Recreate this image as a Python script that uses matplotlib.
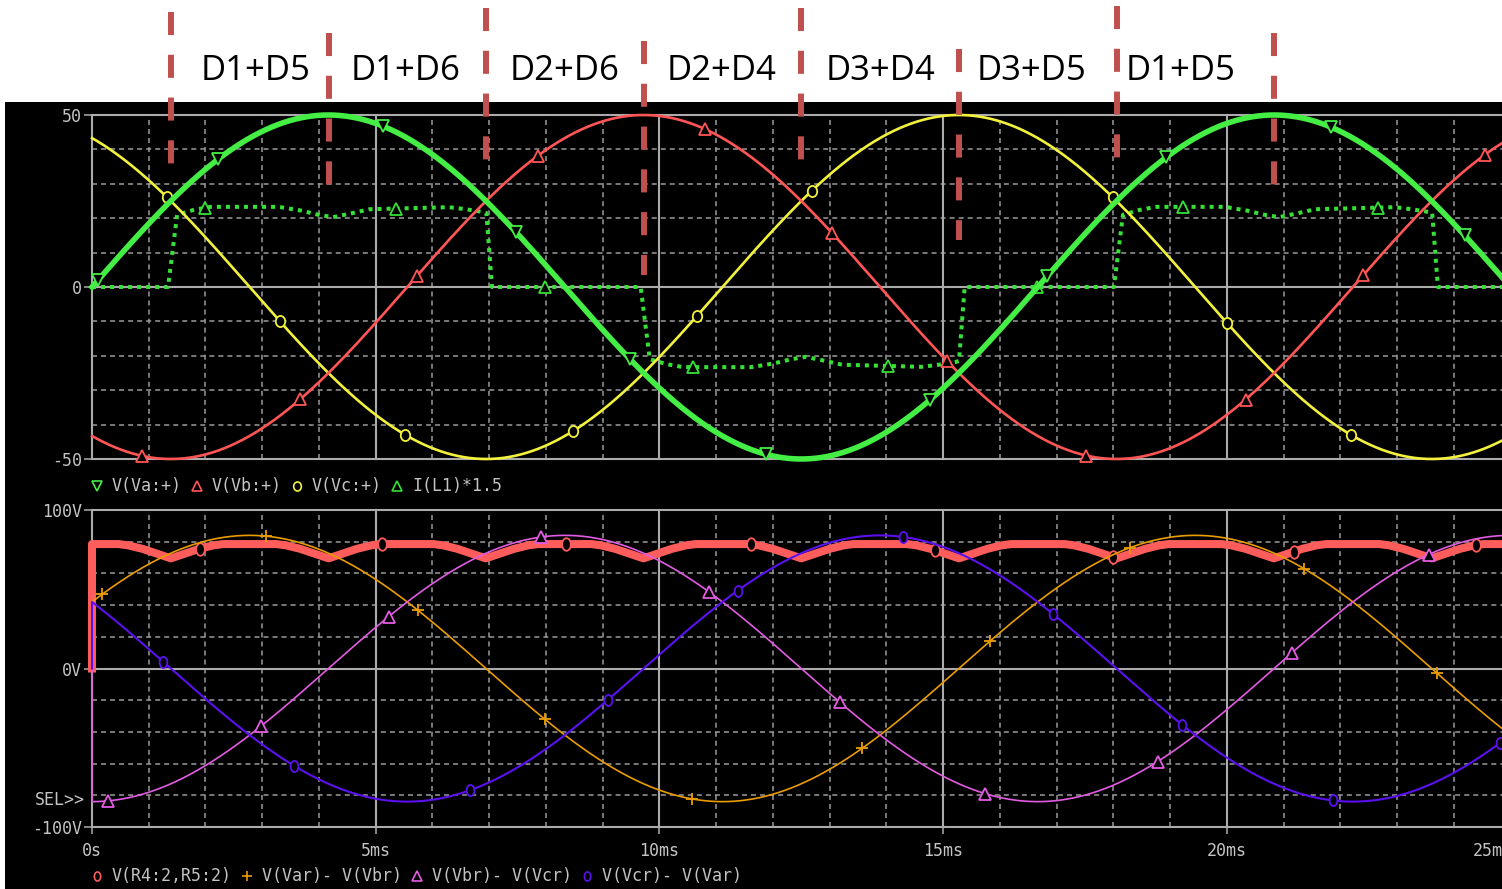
import numpy as np
import matplotlib
matplotlib.use("Agg")
import matplotlib.pyplot as plt
from matplotlib.lines import Line2D
from matplotlib.patches import Rectangle
from matplotlib.path import Path
from matplotlib.markers import MarkerStyle
from matplotlib.transforms import Affine2D, blended_transform_factory

plt.rcParams['font.family'] = ['DejaVu Sans Mono']
plt.rcParams['lines.scale_dashes'] = False

# ---- simulation data ---------------------------------------------------
SIM_END_MS = 25.0

# three-phase source VSIN(0 50 60): peak, frequency, phase of Va, Vb, Vc
PHASE_PEAK_V = 50.0
FREQ_HZ = 60.0
PHASE_DEG = [0.0, -120.0, 120.0]

# line-to-line voltages at the rectifier input (after source resistors)
LINE_PEAK_V = 84.0
LINE_DEG = [30.0, -90.0, 150.0]   # Var-Vbr, Vbr-Vcr, Vcr-Var

# diode commutation instants (ms) and conducting pairs between them
COMMUTATION_MS = [1.39, 4.17, 6.94, 9.72, 12.50, 15.28, 18.06, 20.83, 23.61]
CONDUCTION_LABELS = ['D1+D5', 'D1+D6', 'D2+D6', 'D2+D4', 'D3+D4', 'D3+D5', 'D1+D5']
LABEL_MS = [2.89, 5.53, 8.33, 11.10, 13.90, 16.55, 19.19]

# I(L1)*1.5 : one conduction pulse (offset from pulse start, value)
PULSE_OFFSET_MS = [-0.05, 0.11, 0.40, 0.70, 1.90, 2.30, 2.60, 2.86, 3.15,
                   3.50, 4.90, 5.20, 5.50, 5.56, 5.66]
PULSE_VALUE = [0.0, 21.0, 22.4, 23.3, 23.3, 22.2, 21.0, 20.3, 21.3,
               22.6, 23.2, 22.6, 21.8, 21.5, 0.0]
PULSE_START_MS = [1.39, 9.72, 18.06]
PULSE_SIGN = [1, -1, 1]

# V(R4:2,R5:2) : ripple dip around each commutation
DIP_OFFSET_MS = [-0.92, -0.75, -0.50, -0.25, 0.0, 0.25, 0.50, 0.75, 0.92]
DIP_VALUE = [78.5, 77.7, 75.5, 72.5, 69.5, 72.5, 75.5, 77.7, 78.5]
OUTPUT_FLAT_V = 78.5

# probe symbol positions along each trace (ms)
VA_MARK = [0.11, 2.22, 5.13, 7.47, 9.48, 11.88, 14.77, 16.83, 18.93, 21.83, 24.19]
VB_MARK = [0.88, 3.67, 5.73, 7.86, 10.80, 13.04, 15.07, 17.52, 20.33, 22.40, 24.55]
VC_MARK = [1.32, 3.31, 5.52, 8.48, 10.66, 12.69, 17.99, 20.00, 22.19]
IL_MARK = [1.99, 5.36, 7.98, 10.59, 14.03, 16.65, 19.22, 22.66]
OUT_MARK = [1.90, 5.11, 8.35, 11.61, 14.85, 17.99, 21.18, 24.39]
AB_MARK = [0.18, 3.07, 5.74, 7.98, 10.57, 13.57, 15.82, 18.29, 21.36, 23.70]
BC_MARK = [0.28, 2.98, 5.23, 7.91, 10.87, 13.18, 15.74, 18.78, 21.15, 23.56]
CA_MARK = [1.25, 3.56, 6.66, 9.09, 11.38, 14.29, 16.93, 19.21, 21.87, 24.81]

# ---- build traces ------------------------------------------------------
t = np.linspace(0.0, SIM_END_MS, 2500)
w = 2 * np.pi * FREQ_HZ / 1000.0
va, vb, vc = [PHASE_PEAK_V * np.sin(w * t + np.radians(p)) for p in PHASE_DEG]

t_line = np.r_[0.0, t]
v_ab, v_bc, v_ca = [np.r_[0.0, LINE_PEAK_V * np.sin(w * t + np.radians(p))]
                    for p in LINE_DEG]

il_t, il_v = [0.0], [0.0]
for start, sign in zip(PULSE_START_MS, PULSE_SIGN):
    for o, v in zip(PULSE_OFFSET_MS, PULSE_VALUE):
        il_t.append(start + o)
        il_v.append(sign * v)
il_t.append(SIM_END_MS)
il_v.append(0.0)

out_t, out_v = [0.0, 0.0], [0.0, OUTPUT_FLAT_V]
for c in COMMUTATION_MS:
    for o, v in zip(DIP_OFFSET_MS, DIP_VALUE):
        out_t.append(c + o)
        out_v.append(v)
out_t.append(SIM_END_MS)
out_v.append(OUTPUT_FLAT_V)

# ---- layout (pixels) ---------------------------------------------------
W, H = 1502, 889
X0 = 92
XMAX = 24.85


def fx(px):
    return px / W


def fy(py):
    return 1 - py / H


GRID_C = '#9a9a9a'
MAJOR_C = '#ababab'
TEXT_C = '#c4c4c4'

ELLIPSE = MarkerStyle(Path.unit_circle().transformed(Affine2D().scale(0.7, 1.0)))
ROUND = MarkerStyle(Path.unit_circle().transformed(Affine2D().scale(0.85, 1.0)))

fig = plt.figure(figsize=(W / 100, H / 100), dpi=100)
fig.patch.set_facecolor('white')
fig.add_artist(Rectangle((fx(5), 0), 1 - fx(5), fy(102), transform=fig.transFigure,
                         facecolor='black', edgecolor='none', zorder=-1))

ax_top = fig.add_axes([fx(X0), fy(459), 1 - fx(X0), (459 - 115) / H])
ax_bot = fig.add_axes([fx(X0), fy(827), 1 - fx(X0), (827 - 510) / H])


def setup(ax, ymajor, yminor, ylabels):
    ax.set_facecolor('none')
    ax.set_xlim(0, XMAX)
    ax.set_ylim(ymajor[0], ymajor[-1])
    for s in ax.spines.values():
        s.set_visible(False)
    for v in [i for i in range(1, 25) if i % 5]:
        ax.axvline(v, color=GRID_C, lw=1.1, dashes=(3.6, 2.9), zorder=1)
    for v in yminor:
        ax.axhline(v, color=GRID_C, lw=1.1, dashes=(3.6, 2.9), zorder=1)
    for v in range(0, 25, 5):
        ax.axvline(v, color=MAJOR_C, lw=1.5, clip_on=False, zorder=1.5)
    for v in ymajor:
        ax.axhline(v, color=MAJOR_C, lw=1.5, clip_on=False, zorder=1.5)
    ax.set_yticks(ymajor, ylabels)
    ax.tick_params(axis='y', direction='out', length=5.5, width=1.1, color=MAJOR_C,
                   pad=1.5, labelcolor=TEXT_C, labelsize=12)


setup(ax_top, [-50, 0, 50], [-40, -30, -20, -10, 10, 20, 30, 40], ['-50', '0', '50'])
setup(ax_bot, [-100, 0, 100], [-80, -60, -40, -20, 20, 40, 60, 80],
      ['-100V', '0V', '100V'])
ax_top.tick_params(axis='x', length=0, labelbottom=False)
ax_bot.set_xticks([0, 5, 10, 15, 20], ['0s', '5ms', '10ms', '15ms', '20ms'])
ax_bot.tick_params(axis='x', direction='out', length=5, width=1.1, color=MAJOR_C,
                   pad=5.5, labelcolor=TEXT_C, labelsize=12)
# last time label is pulled in from the window edge
ax_bot.annotate('25ms', xy=(25, 0), xycoords=('data', 'axes fraction'),
                xytext=(-12.5, -10.5), textcoords='offset points', ha='center', va='top',
                color=TEXT_C, fontsize=12, annotation_clip=False)
ax_bot.annotate('SEL>>', xy=(0, -83), xycoords=('axes fraction', 'data'),
                xytext=(-5, 0), textcoords='offset points', ha='right', va='center',
                color=TEXT_C, fontsize=12, annotation_clip=False)


def trace(ax, x, y, marks, color, lw, marker, ms=8, z=3, **kw):
    ax.plot(x, y, color=color, lw=lw, clip_on=False, zorder=z, **kw)
    ax.plot(marks, np.interp(marks, x, y), ls='none', marker=marker, ms=ms,
            mfc='black', mec=color, mew=1.3, clip_on=False, zorder=z + 0.1)


# top panel: phase voltages and scaled inductor current
GREEN = '#44ee44'
trace(ax_top, il_t, il_v, IL_MARK, '#36e036', 2.9, '^', dashes=(2.9, 3.6))
trace(ax_top, t, vc, VC_MARK, '#f2f23c', 1.9, ROUND)
trace(ax_top, t, vb, VB_MARK, '#ff5555', 1.9, '^')
trace(ax_top, t, va, VA_MARK, GREEN, 4.0, 'v', z=3.5)

# bottom panel: rectifier output and line-to-line voltages
trace(ax_bot, out_t, out_v, OUT_MARK, '#ff5c5c', 5.8, ELLIPSE, ms=9, z=2.5)
trace(ax_bot, t_line, v_ab, AB_MARK, '#eb9d00', 1.2, '+', ms=9)
trace(ax_bot, t_line, v_bc, BC_MARK, '#e35be3', 1.2, '^')
trace(ax_bot, t_line, v_ca, CA_MARK, '#5b10f0', 1.5, ELLIPSE)

# commutation markers and conducting diode pairs
DASH_Y_PX = [(12, 182), (33, 203), (8, 178), (41, 275), (8, 178), (49, 240),
             (6, 176), (33, 203)]
blend = blended_transform_factory(ax_top.transData, fig.transFigure)
for c, (y0, y1) in zip(COMMUTATION_MS, DASH_Y_PX):
    ax_top.plot([c, c], [fy(y0), fy(y1)], transform=blend, color='#c0504d', lw=4.3,
                dashes=(16.6, 14.2), solid_capstyle='butt', clip_on=False, zorder=10)
for tm, lab in zip(LABEL_MS, CONDUCTION_LABELS):
    ax_top.text(tm, fy(80), lab, transform=blend, ha='center', va='baseline',
                fontsize=25, family='Open Sans', color='black', clip_on=False)


def legend_row(y_px, entries):
    i = 0
    for marker, color, label in entries:
        cx = X0 + 10.0 * (i + 0.5)
        fig.add_artist(Line2D([fx(cx)], [fy(y_px)], transform=fig.transFigure,
                              ls='none', marker=marker, ms=6.5, mfc='black',
                              mec=color, mew=1.2))
        fig.text(fx(X0 + 10.0 * (i + 2)), fy(y_px), label, ha='left', va='center',
                 color=TEXT_C, fontsize=12)
        i += 2 + len(label) + 1


legend_row(486, [('v', GREEN, 'V(Va:+)'), ('^', '#ff5555', 'V(Vb:+)'),
                 (ROUND, '#f2f23c', 'V(Vc:+)'), ('^', '#36e036', 'I(L1)*1.5')])
legend_row(876, [(ELLIPSE, '#ff5c5c', 'V(R4:2,R5:2)'), ('+', '#eb9d00', 'V(Var)- V(Vbr)'),
                 ('^', '#e35be3', 'V(Vbr)- V(Vcr)'), (ELLIPSE, '#5b10f0', 'V(Vcr)- V(Var)')])

fig.savefig('out.png', dpi=100, facecolor='white')
